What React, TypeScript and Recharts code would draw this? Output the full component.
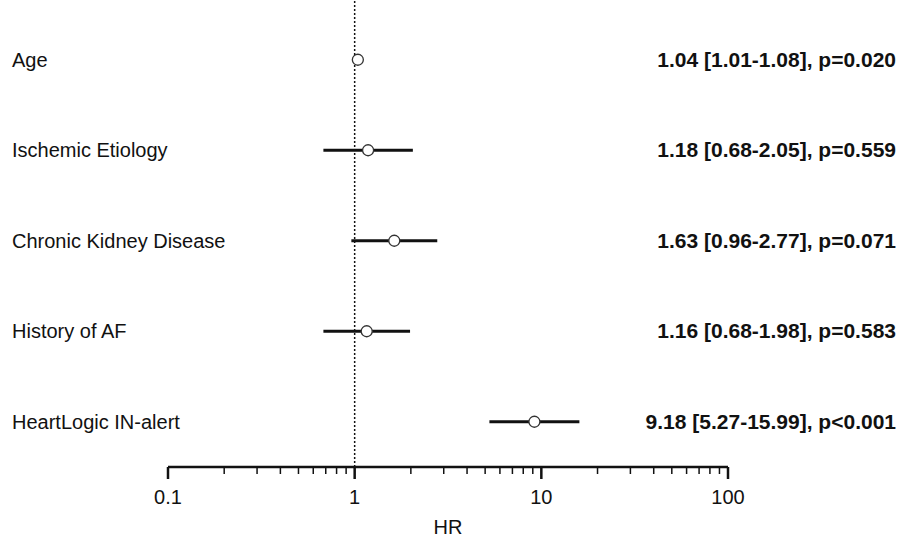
import React from 'react';
import {
  ComposedChart,
  Scatter,
  XAxis,
  YAxis,
  ReferenceLine,
} from 'recharts';

// forest plot rows, top to bottom
const FACTORS = [
  'Age',
  'Ischemic Etiology',
  'Chronic Kidney Disease',
  'History of AF',
  'HeartLogic IN-alert',
];
const HR = [1.04, 1.18, 1.63, 1.16, 9.18];
const CI_LOW = [1.01, 0.68, 0.96, 0.68, 5.27];
const CI_HIGH = [1.08, 2.05, 2.77, 1.98, 15.99];
const SUMMARY = [
  '1.04 [1.01-1.08], p=0.020',
  '1.18 [0.68-2.05], p=0.559',
  '1.63 [0.96-2.77], p=0.071',
  '1.16 [0.68-1.98], p=0.583',
  '9.18 [5.27-15.99], p<0.001',
];

const X_TICKS = [
  0.1, 0.2, 0.3, 0.4, 0.5, 0.6, 0.7, 0.8, 0.9,
  1, 2, 3, 4, 5, 6, 7, 8, 9,
  10, 20, 30, 40, 50, 60, 70, 80, 90, 100,
];
const MAJOR_TICKS = [0.1, 1, 10, 100];

const FONT = '"Liberation Sans", Arial, sans-serif';
const N = FACTORS.length;

// y position of a row: top row gets the largest value
const rowY = (i: number) => N - i;

const points = FACTORS.map((name, i) => ({ name, x: HR[i], y: rowY(i) }));
const ciSegments = FACTORS.map((_, i) => [
  { x: CI_LOW[i], y: rowY(i) },
  { x: CI_HIGH[i], y: rowY(i) },
]);

const XTick = (props: any) => {
  const { x, y, payload } = props;
  const major = MAJOR_TICKS.includes(payload.value);
  return (
    <g>
      <line
        x1={x}
        x2={x}
        y1={y}
        y2={y + (major ? 12 : 7)}
        stroke="#111"
        strokeWidth={major ? 2.5 : 1.5}
      />
      {major && (
        <text
          x={x}
          y={y + 37}
          textAnchor="middle"
          fontSize={20}
          fontFamily={FONT}
          fill="#111"
        >
          {payload.value}
        </text>
      )}
    </g>
  );
};

// row label on the left, HR summary on the right
const RowTick = (props: any) => {
  const { y, payload } = props;
  const idx = N - payload.value;
  return (
    <g>
      <text x={12} y={y + 7} fontSize={20} fontFamily={FONT} fill="#111">
        {FACTORS[idx]}
      </text>
      <text
        x={896}
        y={y + 7}
        textAnchor="end"
        fontSize={21}
        fontWeight="bold"
        fontFamily={FONT}
        fill="#111"
      >
        {SUMMARY[idx]}
      </text>
    </g>
  );
};

const Circle = (props: any) => {
  const { cx, cy } = props;
  return <circle cx={cx} cy={cy} r={5.5} fill="#fff" stroke="#333" strokeWidth={1.3} />;
};

export default function App() {
  return (
    <div style={{ position: 'absolute', left: 0, top: 0, background: '#fff' }}>
      <ComposedChart
        width={908}
        height={540}
        margin={{ top: 0, right: 180, bottom: 0, left: 0 }}
      >
        <XAxis
          dataKey="x"
          type="number"
          scale="log"
          domain={[0.1, 100]}
          allowDataOverflow
          ticks={X_TICKS}
          interval={0}
          height={73}
          tickSize={0}
          tickMargin={0}
          tickLine={false}
          axisLine={{ stroke: '#111', strokeWidth: 2.5 }}
          tick={<XTick />}
          label={{
            value: 'HR',
            position: 'insideBottom',
            offset: 6,
            fontSize: 20,
            fontFamily: FONT,
            fill: '#111',
          }}
        />
        <YAxis
          yAxisId="left"
          type="number"
          dataKey="y"
          domain={[0.5, 5.66]}
          ticks={[1, 2, 3, 4, 5]}
          width={168}
          axisLine={false}
          tickLine={false}
          tick={<RowTick />}
        />
        <ReferenceLine
          x={1}
          yAxisId="left"
          stroke="#111"
          strokeWidth={1.5}
          strokeDasharray="2 2"
        />
        {ciSegments.map((seg, i) => (
          <Scatter
            key={`ci-${i}`}
            yAxisId="left"
            data={seg}
            line={{ stroke: '#111', strokeWidth: 3 }}
            shape={() => null}
            isAnimationActive={false}
          />
        ))}
        <Scatter
          yAxisId="left"
          data={points}
          shape={<Circle />}
          isAnimationActive={false}
        />
      </ComposedChart>
    </div>
  );
}
